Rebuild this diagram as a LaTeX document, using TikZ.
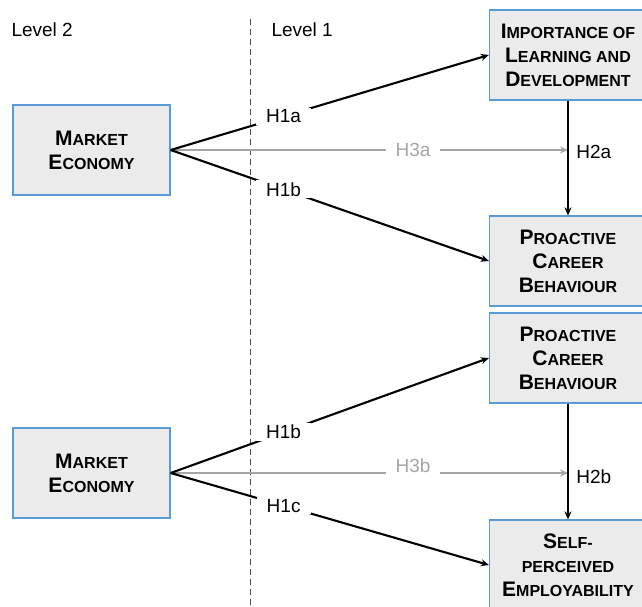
\documentclass[tikz,border=0pt]{standalone}
\usepackage{fontspec}
\setmainfont{Liberation Sans}
\usetikzlibrary{arrows.meta}
\definecolor{boxfill}{HTML}{EBEBEB}
\definecolor{boxline}{HTML}{5B9BD5}
\definecolor{pathgray}{HTML}{A6A6A6}
\newcommand{\smc}[2]{#1{\fontsize{16}{24}\selectfont #2}}
\tikzset{
	construct/.style={draw=boxline, line width=1.3pt, fill=boxfill, minimum width=157pt, minimum height=90pt, inner sep=0pt, align=center, font=\fontsize{21}{24}\selectfont\bfseries},
	link/.style={line width=2.1pt, -{Stealth[length=8pt,width=7pt]}},
	indirect/.style={link, draw=pathgray},
	hyp/.style={fill=white, inner xsep=10pt, inner ysep=2pt, font=\fontsize{19}{22}\selectfont},
	level/.style={anchor=west, font=\fontsize{19}{22}\selectfont}
}
\begin{document}
\begin{tikzpicture}[x=1pt,y=-1pt]
	\useasboundingbox (0,0) rectangle (642,606);
	\draw[line width=0.8pt, color=black!70, dash pattern=on 6pt off 4pt] (250,19) -- (250,606);
	\node[level] (lvtwo) at (8,30) {Level 2};
	\node[level] (lvone) at (268,30) {Level 1};
	% upper model
	\node[construct] (me1) at (91.5,150) {\smc{M}{ARKET}\\\smc{E}{CONOMY}};
	\node[construct] (ild) at (568,55) {\smc{I}{MPORTANCE OF}\\\smc{L}{EARNING AND}\\\smc{D}{EVELOPMENT}};
	\node[construct] (pcb1) at (568,261) {\smc{P}{ROACTIVE}\\\smc{C}{AREER}\\\smc{B}{EHAVIOUR}};
	\coordinate (med1) at (me1.east -| ild.south);
	\draw[indirect] (me1.east) -- node[hyp, text=pathgray, pos=0.61] {H3a} (med1);
	\draw[link] (me1.east) -- node[hyp, pos=0.355] {H1a} (ild.west);
	\draw[link] (me1.east) -- node[hyp, pos=0.355] {H1b} (pcb1.west);
	\draw[link] (ild) -- node[right=4pt, pos=0.45, font=\fontsize{19}{22}\selectfont] {H2a} (pcb1);
	% lower model
	\node[construct] (me2) at (91.5,473) {\smc{M}{ARKET}\\\smc{E}{CONOMY}};
	\node[construct] (pcb2) at (568,358) {\smc{P}{ROACTIVE}\\\smc{C}{AREER}\\\smc{B}{EHAVIOUR}};
	\node[construct] (spe) at (568,565) {\smc{S}{ELF-}\\\smc{}{PERCEIVED}\\\smc{E}{MPLOYABILITY}};
	\coordinate (med2) at (me2.east -| pcb2.south);
	\draw[indirect] (me2.east) -- node[hyp, text=pathgray, pos=0.61, yshift=7pt] {H3b} (med2);
	\draw[link] (me2.east) -- node[hyp, pos=0.355] {H1b} (pcb2.west);
	\draw[link] (me2.east) -- node[hyp, pos=0.355] {H1c} (spe.west);
	\draw[link] (pcb2) -- node[right=4pt, pos=0.63, font=\fontsize{19}{22}\selectfont] {H2b} (spe);
\end{tikzpicture}
\end{document}
